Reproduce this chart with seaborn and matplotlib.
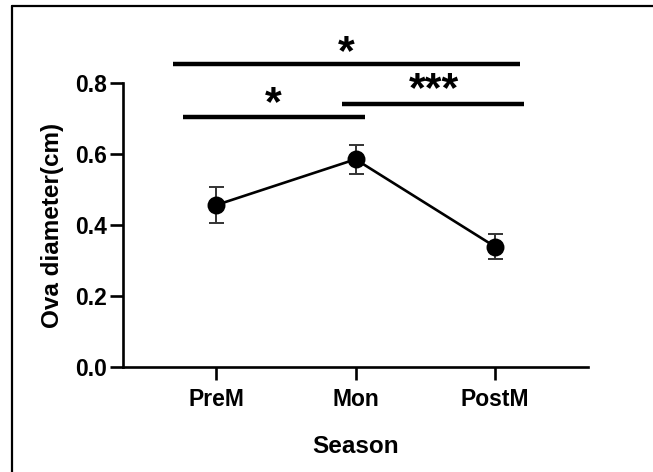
import matplotlib
matplotlib.use("Agg")
import matplotlib.pyplot as plt
import pandas as pd
import seaborn as sns
from matplotlib.lines import Line2D

# Values (mean +/- SEM)
seasons = ["PreM", "Mon", "PostM"]
mean_diam = [0.456, 0.585, 0.339]
sem_diam = [0.050, 0.040, 0.036]

# Significance comparisons (index pairs into seasons)
sig_pairs = [(0, 2), (0, 1), (1, 2)]
sig_labels = ["*", "*", "***"]

df = pd.DataFrame({"season": seasons, "diameter": mean_diam, "sem": sem_diam})

sns.set_theme(style="ticks")
plt.rcParams["font.family"] = ["Liberation Sans", "DejaVu Sans"]
plt.rcParams["font.weight"] = "bold"
plt.rcParams["text.color"] = "black"
plt.rcParams["axes.labelcolor"] = "black"

fig = plt.figure(figsize=(6.53, 4.72), dpi=100)
ax = fig.add_axes([0.1884, 0.2225, 0.7121, 0.6017])

# Mean line + markers
sns.pointplot(
    data=df, x="season", y="diameter", order=seasons, errorbar=None,
    color="black", markers="o", markersize=11.5, linewidth=1.9, ax=ax,
)
# SEM error bars
ax.errorbar(
    range(len(seasons)), df["diameter"], yerr=df["sem"], fmt="none",
    ecolor="#333333", elinewidth=1.4, capsize=5.4, capthick=1.4, zorder=1,
)

ax.set_xlim(-0.667, 2.667)
ax.set_ylim(0, 0.8)
ax.set_yticks([0.0, 0.2, 0.4, 0.6, 0.8])
ax.set_yticklabels(["0.0", "0.2", "0.4", "0.6", "0.8"])
ax.set_xlabel("Season", fontsize=17.5, fontweight="bold", labelpad=17)
ax.set_ylabel("Ova diameter(cm)", fontsize=17.5, fontweight="bold", labelpad=8)
ax.tick_params(axis="both", labelsize=16.5, width=1.9, length=9.4,
               color="black", labelcolor="black")
ax.tick_params(axis="y", pad=2)
ax.tick_params(axis="x", pad=6)
for lab in ax.get_xticklabels() + ax.get_yticklabels():
    lab.set_fontweight("bold")
for side in ["left", "bottom"]:
    ax.spines[side].set_linewidth(1.9)
    ax.spines[side].set_color("black")
sns.despine(ax=ax)

# Significance bars
bar_specs = [
    (-0.31, 2.18, 0.853, 0.885, 0.93),
    (-0.24, 1.07, 0.704, 0.740, 0.41),
    (0.90, 2.21, 0.741, 0.781, 1.56),
]
for (x0, x1, yb, yt, xt), lab in zip(bar_specs, sig_labels):
    ax.plot([x0, x1], [yb, yb], color="black", lw=3.2, clip_on=False,
            solid_capstyle="butt")
    ax.text(xt, yt, lab, ha="center", va="center", fontsize=31,
            fontweight="bold", color="black", clip_on=False)

# Outer frame (partly cropped in the reference)
fig.add_artist(Line2D([12 / 653, 1.0], [1 - 6 / 472, 1 - 6 / 472],
                      color="black", lw=1.6, transform=fig.transFigure))
fig.add_artist(Line2D([12 / 653, 12 / 653], [0.0, 1 - 6 / 472],
                      color="black", lw=1.6, transform=fig.transFigure))

fig.savefig("out.png", dpi=100, facecolor="white")
